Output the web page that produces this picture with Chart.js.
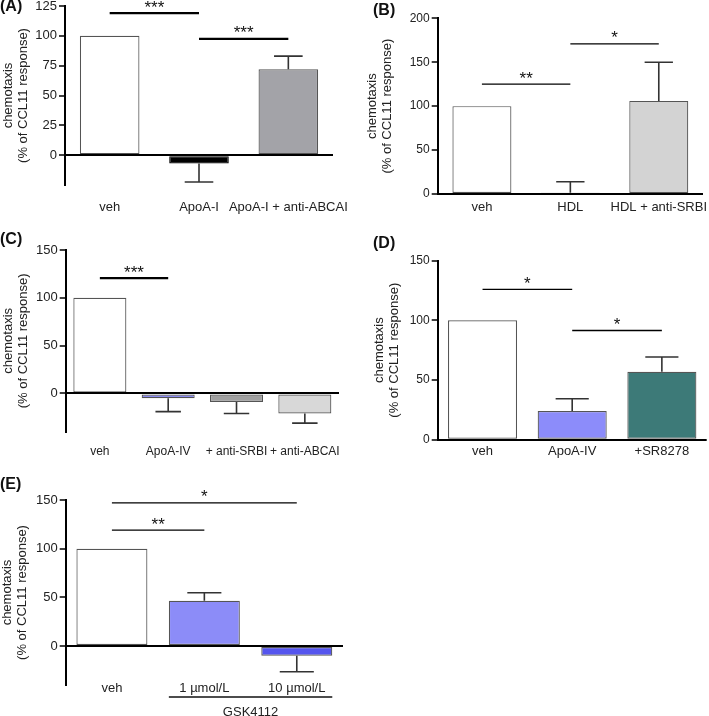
<!DOCTYPE html>
<html><head><meta charset="utf-8">
<script src="https://cdn.jsdelivr.net/npm/chart.js@4.4.1/dist/chart.umd.min.js"></script>
<style>
html,body{margin:0;padding:0;background:#fff;width:709px;height:716px;overflow:hidden;position:relative;font-family:"Liberation Sans",Arial,sans-serif;}
.plabel{position:absolute;font-weight:bold;font-size:16px;color:#111;line-height:16px;}
</style>
</head><body>
<script>
// ---------- DATA ----------
const catsA = ['veh', 'ApoA-I', 'ApoA-I + anti-ABCAI'];
const valsA = [100, -7, 72];
const errA  = [0, 15.5, 11];
const ticksA = [0, 25, 50, 75, 100, 125];
const sigA = [{from: 0, to: 1, y: 119, text: '***'}, {from: 1, to: 2, y: 97.5, text: '***'}];

const catsB = ['veh', 'HDL', 'HDL + anti-SRBI'];
const valsB = [100, 1.5, 106];
const errB  = [0, 12.5, 44];
const ticksB = [0, 50, 100, 150, 200];
const sigB = [{from: 0, to: 1, y: 125, text: '**'}, {from: 1, to: 2, y: 171, text: '*'}];

const catsC = ['veh', 'ApoA-IV', '+ anti-SRBI', '+ anti-ABCAI'];
const valsC = [100, -5, -9, -21];
const errC  = [0, 14, 12, 10];
const ticksC = [0, 50, 100, 150];
const sigC = [{from: 0, to: 1, y: 120.5, text: '***'}];

const catsD = ['veh', 'ApoA-IV', '+SR8278'];
const valsD = [100, 24, 57];
const errD  = [0, 10.3, 12.3];
const ticksD = [0, 50, 100, 150];
const sigD = [{from: 0, to: 1, y: 126, text: '*'}, {from: 1, to: 2, y: 91.5, text: '*'}];

const catsE = ['veh', '1 µmol/L', '10 µmol/L'];
const valsE = [100, 46.5, -10];
const errE  = [0, 8.2, 16.4];
const ticksE = [0, 50, 100, 150];
const sigE = [{from: 0, to: 1, y: 119, text: '**'}, {from: 0, to: 2, y: 147, text: '*'}];
const groupE = [{from: 1, to: 2, text: 'GSK4112'}];

const yTitle = ['chemotaxis', '(% of CCL11 response)'];

// ---------- RENDERING ----------
Chart.defaults.font.family = '"Liberation Sans", Arial, sans-serif';
Chart.defaults.color = '#222';

const annot = {
  id: 'annot',
  afterDatasetsDraw(chart, args, o) {
    const ctx = chart.ctx, ys = chart.scales.y, xs = chart.scales.x;
    const meta = chart.getDatasetMeta(0);
    const vals = chart.data.datasets[0].data;
    ctx.save();
    ctx.lineCap = 'butt';
    ctx.strokeStyle = o.errColor; ctx.lineWidth = o.errWidth;
    o.err.forEach((e, i) => {
      if (!e) return;
      const bar = meta.data[i], v = vals[i];
      const end = v >= 0 ? v + e : v - e;
      const y0 = ys.getPixelForValue(v), y1 = ys.getPixelForValue(end);
      const hw = bar.width * o.cap / 2;
      ctx.beginPath();
      ctx.moveTo(bar.x, y0); ctx.lineTo(bar.x, y1);
      ctx.moveTo(bar.x - hw, y1); ctx.lineTo(bar.x + hw, y1);
      ctx.stroke();
    });
    ctx.strokeStyle = '#000'; ctx.lineWidth = o.sigWidth;
    ctx.fillStyle = '#111';
    ctx.font = '17px "Liberation Sans", Arial, sans-serif';
    ctx.textAlign = 'center'; ctx.textBaseline = 'alphabetic';
    o.sig.forEach(s => {
      const xa = xs.getPixelForValue(s.from), xb = xs.getPixelForValue(s.to);
      const y = ys.getPixelForValue(s.y);
      ctx.beginPath(); ctx.moveTo(xa, y); ctx.lineTo(xb, y); ctx.stroke();
      ctx.fillText(s.text, (xa + xb) / 2, y - 0.5);
    });
    ctx.restore();
  },
  afterDraw(chart, args, o) {
    if (!o.group) return;
    const ctx = chart.ctx, meta = chart.getDatasetMeta(0);
    const base = chart.chartArea.bottom;
    ctx.save();
    ctx.strokeStyle = '#111'; ctx.lineWidth = 1.3;
    ctx.fillStyle = '#222';
    ctx.font = '13px "Liberation Sans", Arial, sans-serif';
    ctx.textAlign = 'center'; ctx.textBaseline = 'middle';
    o.group.forEach(g => {
      const a = meta.data[g.from], b = meta.data[g.to];
      const xa = a.x - a.width / 2, xb = b.x + b.width / 2;
      ctx.beginPath(); ctx.moveTo(xa, base + o.groupLine); ctx.lineTo(xb, base + o.groupLine); ctx.stroke();
      ctx.fillText(g.text, (xa + xb) / 2, base + o.groupText);
    });
    ctx.restore();
  }
};

function makePanel(p) {
  const c = document.createElement('canvas');
  c.width = p.canvas.w; c.height = p.canvas.h;
  c.style.cssText = `position:absolute;left:${p.canvas.x}px;top:${p.canvas.y}px;width:${p.canvas.w}px;height:${p.canvas.h}px;`;
  document.body.appendChild(c);
  new Chart(c, {
    type: 'bar',
    data: {
      labels: p.labels,
      datasets: [{
        data: p.values,
        backgroundColor: p.colors,
        borderColor: p.borders,
        borderWidth: 1.2,
        borderSkipped: false,
        barPercentage: 1,
        categoryPercentage: p.catPct
      }]
    },
    options: {
      responsive: false, animation: false, devicePixelRatio: 1,
      layout: {padding: {left: 0, top: p.area.t - p.canvas.y, right: p.canvas.x + p.canvas.w - p.area.r, bottom: 0}},
      plugins: {
        legend: {display: false}, tooltip: {enabled: false},
        annot: {err: p.err, sig: p.sig, sigWidth: p.sigWidth, errColor: '#333', errWidth: 1.6, cap: 0.48,
                group: p.group || null, groupLine: 12, groupText: 27}
      },
      scales: {
        x: {
          grid: {display: false, drawTicks: false, tickLength: 0},
          border: {display: false},
          ticks: {autoSkip: false, maxRotation: 0, minRotation: 0, mirror: !!p.labelMirror, padding: p.labelPad, color: '#222', font: {size: p.labelSize}},
          afterFit: s => { s.height = p.canvas.y + p.canvas.h - p.area.b; s.paddingLeft = 0; s.paddingRight = 0; }
        },
        y: {
          min: p.min, max: p.max,
          afterBuildTicks: s => { s.ticks = p.ticks.map(v => ({value: v})); },
          grid: {
            z: 1,
            color: ctx => (ctx.tick && ctx.tick.value === 0) ? '#000' : 'rgba(0,0,0,0)',
            lineWidth: 2, drawTicks: true, tickLength: 6, tickColor: '#000', tickWidth: 1.5
          },
          border: {display: true, color: '#000', width: 2, z: 1},
          ticks: {padding: 2, color: '#222', font: {size: p.tickSize}},
          title: {display: true, text: yTitle, color: '#222', font: {size: 13, lineHeight: 1.15}, padding: {top: 1, bottom: 0}},
          afterFit: s => { s.width = p.area.l - p.canvas.x; s.paddingTop = 0; s.paddingBottom = 0; }
        }
      }
    },
    plugins: [annot]
  });
}

const G = '#555';
makePanel({labels: catsA, values: valsA, err: errA, ticks: ticksA, sig: sigA, min: -25, max: 125,
  colors: ['#ffffff', '#000000', '#a3a3a8'], borders: [G, '#000', G], catPct: 0.667, sigWidth: 2.2,
  tickSize: 13, labelSize: 13, labelPad: 14.2,
  canvas: {x: 0, y: -4, w: 355, h: 232}, area: {l: 65, t: 6, r: 333, b: 185}});

makePanel({labels: catsB, values: valsB, err: errB, ticks: ticksB, sig: sigB, min: 0, max: 200,
  colors: ['#ffffff', '#ffffff', '#d3d3d3'], borders: [G, G, G], catPct: 0.667, sigWidth: 1.3,
  tickSize: 12, labelSize: 13, labelPad: 5.7,
  canvas: {x: 364, y: 4, w: 345, h: 222}, area: {l: 437.7, t: 18.3, r: 703, b: 194}});

makePanel({labels: catsC, values: valsC, err: errC, ticks: ticksC, sig: sigC, min: -40, max: 150,
  colors: ['#ffffff', '#8a8af0', '#a0a0a0', '#d8d8d8'], borders: [G, G, G, G], catPct: 0.776, sigWidth: 2.2,
  tickSize: 13, labelSize: 12, labelPad: 13,
  canvas: {x: 0, y: 236, w: 352, h: 228}, area: {l: 65.7, t: 250, r: 339, b: 431.7}});

makePanel({labels: catsD, values: valsD, err: errD, ticks: ticksD, sig: sigD, min: 0, max: 150,
  colors: ['#ffffff', '#8c8cfa', '#3d7a78'], borders: [G, G, G], catPct: 0.77, sigWidth: 1.3,
  tickSize: 12, labelSize: 13, labelPad: 3.5,
  canvas: {x: 371, y: 244, w: 338, h: 222}, area: {l: 437.7, t: 260.7, r: 706.7, b: 439.7}});

makePanel({labels: catsE, values: valsE, err: errE, ticks: ticksE, sig: sigE, group: groupE, min: -40, max: 150,
  colors: ['#ffffff', '#8c8cf8', '#5555ee'], borders: [G, G, G], catPct: 0.768, sigWidth: 1.3,
  tickSize: 13, labelSize: 13, labelPad: -11.6, labelMirror: true,
  canvas: {x: -1, y: 486, w: 360, h: 232}, area: {l: 65.7, t: 500, r: 343, b: 685}});

[['(A)', 0, -2], ['(B)', 373, 2], ['(C)', 0, 231], ['(D)', 373, 235], ['(E)', 0, 476]].forEach(([t, x, y]) => {
  const d = document.createElement('div');
  d.className = 'plabel'; d.textContent = t;
  d.style.left = x + 'px'; d.style.top = y + 'px';
  document.body.appendChild(d);
});
</script>
</body></html>
